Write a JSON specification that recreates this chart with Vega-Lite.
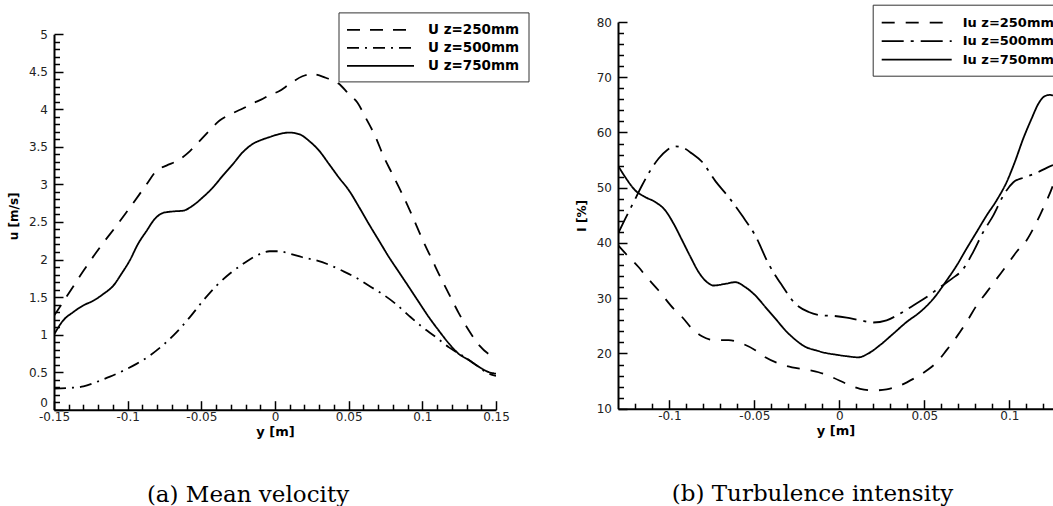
{
  "$schema": "https://vega.github.io/schema/vega-lite/v6.json",
  "padding": {"left": 7, "top": 4, "right": 0, "bottom": 0},
  "background": "white",
  "spacing": 46,
  "datasets": {
    "vel": [
      {"s": "U z=250mm", "y": -0.15, "v": 1.25},
      {"s": "U z=250mm", "y": -0.1403, "v": 1.54},
      {"s": "U z=250mm", "y": -0.13, "v": 1.85},
      {"s": "U z=250mm", "y": -0.1189, "v": 2.16},
      {"s": "U z=250mm", "y": -0.1076, "v": 2.45},
      {"s": "U z=250mm", "y": -0.0974, "v": 2.72},
      {"s": "U z=250mm", "y": -0.0872, "v": 3.0},
      {"s": "U z=250mm", "y": -0.0805, "v": 3.18},
      {"s": "U z=250mm", "y": -0.0737, "v": 3.25},
      {"s": "U z=250mm", "y": -0.0658, "v": 3.32},
      {"s": "U z=250mm", "y": -0.0579, "v": 3.44},
      {"s": "U z=250mm", "y": -0.0511, "v": 3.58},
      {"s": "U z=250mm", "y": -0.0444, "v": 3.72},
      {"s": "U z=250mm", "y": -0.0376, "v": 3.85},
      {"s": "U z=250mm", "y": -0.0297, "v": 3.94},
      {"s": "U z=250mm", "y": -0.0229, "v": 4.0},
      {"s": "U z=250mm", "y": -0.015, "v": 4.08},
      {"s": "U z=250mm", "y": -0.0082, "v": 4.14},
      {"s": "U z=250mm", "y": -0.0037, "v": 4.19},
      {"s": "U z=250mm", "y": 0.0027, "v": 4.24},
      {"s": "U z=250mm", "y": 0.0095, "v": 4.33},
      {"s": "U z=250mm", "y": 0.0186, "v": 4.44},
      {"s": "U z=250mm", "y": 0.0253, "v": 4.47},
      {"s": "U z=250mm", "y": 0.0344, "v": 4.42},
      {"s": "U z=250mm", "y": 0.0434, "v": 4.34},
      {"s": "U z=250mm", "y": 0.0502, "v": 4.2},
      {"s": "U z=250mm", "y": 0.0559, "v": 4.09},
      {"s": "U z=250mm", "y": 0.0615, "v": 3.89},
      {"s": "U z=250mm", "y": 0.0683, "v": 3.63},
      {"s": "U z=250mm", "y": 0.074, "v": 3.36},
      {"s": "U z=250mm", "y": 0.0796, "v": 3.14},
      {"s": "U z=250mm", "y": 0.0864, "v": 2.87},
      {"s": "U z=250mm", "y": 0.0932, "v": 2.58},
      {"s": "U z=250mm", "y": 0.1, "v": 2.27},
      {"s": "U z=250mm", "y": 0.1068, "v": 1.99},
      {"s": "U z=250mm", "y": 0.1124, "v": 1.76},
      {"s": "U z=250mm", "y": 0.1181, "v": 1.54},
      {"s": "U z=250mm", "y": 0.1249, "v": 1.28},
      {"s": "U z=250mm", "y": 0.1317, "v": 1.05},
      {"s": "U z=250mm", "y": 0.1385, "v": 0.86},
      {"s": "U z=250mm", "y": 0.1452, "v": 0.74},
      {"s": "U z=250mm", "y": 0.15, "v": 0.7},
      {"s": "U z=500mm", "y": -0.15, "v": 0.28},
      {"s": "U z=500mm", "y": -0.1392, "v": 0.29},
      {"s": "U z=500mm", "y": -0.13, "v": 0.31},
      {"s": "U z=500mm", "y": -0.1211, "v": 0.37},
      {"s": "U z=500mm", "y": -0.112, "v": 0.44},
      {"s": "U z=500mm", "y": -0.103, "v": 0.52},
      {"s": "U z=500mm", "y": -0.094, "v": 0.61},
      {"s": "U z=500mm", "y": -0.085, "v": 0.72},
      {"s": "U z=500mm", "y": -0.076, "v": 0.86},
      {"s": "U z=500mm", "y": -0.0669, "v": 1.03},
      {"s": "U z=500mm", "y": -0.0579, "v": 1.23},
      {"s": "U z=500mm", "y": -0.0489, "v": 1.45},
      {"s": "U z=500mm", "y": -0.0398, "v": 1.65},
      {"s": "U z=500mm", "y": -0.0308, "v": 1.81},
      {"s": "U z=500mm", "y": -0.0218, "v": 1.94},
      {"s": "U z=500mm", "y": -0.0128, "v": 2.05},
      {"s": "U z=500mm", "y": -0.0037, "v": 2.11},
      {"s": "U z=500mm", "y": 0.0027, "v": 2.11},
      {"s": "U z=500mm", "y": 0.0095, "v": 2.08},
      {"s": "U z=500mm", "y": 0.0186, "v": 2.03},
      {"s": "U z=500mm", "y": 0.0276, "v": 1.99},
      {"s": "U z=500mm", "y": 0.0367, "v": 1.93},
      {"s": "U z=500mm", "y": 0.0457, "v": 1.85},
      {"s": "U z=500mm", "y": 0.0548, "v": 1.76},
      {"s": "U z=500mm", "y": 0.0638, "v": 1.65},
      {"s": "U z=500mm", "y": 0.0729, "v": 1.54},
      {"s": "U z=500mm", "y": 0.0819, "v": 1.41},
      {"s": "U z=500mm", "y": 0.091, "v": 1.25},
      {"s": "U z=500mm", "y": 0.1, "v": 1.1},
      {"s": "U z=500mm", "y": 0.109, "v": 0.97},
      {"s": "U z=500mm", "y": 0.1181, "v": 0.83},
      {"s": "U z=500mm", "y": 0.1271, "v": 0.72},
      {"s": "U z=500mm", "y": 0.1362, "v": 0.6},
      {"s": "U z=500mm", "y": 0.1452, "v": 0.48},
      {"s": "U z=500mm", "y": 0.15, "v": 0.45},
      {"s": "U z=750mm", "y": -0.15, "v": 1.0},
      {"s": "U z=750mm", "y": -0.1437, "v": 1.19},
      {"s": "U z=750mm", "y": -0.1369, "v": 1.3},
      {"s": "U z=750mm", "y": -0.13, "v": 1.39},
      {"s": "U z=750mm", "y": -0.1234, "v": 1.45},
      {"s": "U z=750mm", "y": -0.1166, "v": 1.54},
      {"s": "U z=750mm", "y": -0.1098, "v": 1.65},
      {"s": "U z=750mm", "y": -0.1042, "v": 1.81},
      {"s": "U z=750mm", "y": -0.0985, "v": 1.99},
      {"s": "U z=750mm", "y": -0.0929, "v": 2.21},
      {"s": "U z=750mm", "y": -0.0872, "v": 2.38},
      {"s": "U z=750mm", "y": -0.0816, "v": 2.54},
      {"s": "U z=750mm", "y": -0.076, "v": 2.62},
      {"s": "U z=750mm", "y": -0.0692, "v": 2.64},
      {"s": "U z=750mm", "y": -0.0624, "v": 2.65},
      {"s": "U z=750mm", "y": -0.0556, "v": 2.72},
      {"s": "U z=750mm", "y": -0.0489, "v": 2.83},
      {"s": "U z=750mm", "y": -0.0421, "v": 2.96},
      {"s": "U z=750mm", "y": -0.0353, "v": 3.12},
      {"s": "U z=750mm", "y": -0.0286, "v": 3.27},
      {"s": "U z=750mm", "y": -0.0218, "v": 3.43},
      {"s": "U z=750mm", "y": -0.015, "v": 3.54},
      {"s": "U z=750mm", "y": -0.0082, "v": 3.6},
      {"s": "U z=750mm", "y": -0.0037, "v": 3.63},
      {"s": "U z=750mm", "y": 0.0027, "v": 3.67},
      {"s": "U z=750mm", "y": 0.0095, "v": 3.69},
      {"s": "U z=750mm", "y": 0.0163, "v": 3.67},
      {"s": "U z=750mm", "y": 0.0231, "v": 3.58},
      {"s": "U z=750mm", "y": 0.0299, "v": 3.45},
      {"s": "U z=750mm", "y": 0.0367, "v": 3.27},
      {"s": "U z=750mm", "y": 0.0434, "v": 3.09},
      {"s": "U z=750mm", "y": 0.0502, "v": 2.92},
      {"s": "U z=750mm", "y": 0.057, "v": 2.7},
      {"s": "U z=750mm", "y": 0.0638, "v": 2.47},
      {"s": "U z=750mm", "y": 0.0706, "v": 2.25},
      {"s": "U z=750mm", "y": 0.0774, "v": 2.03},
      {"s": "U z=750mm", "y": 0.0842, "v": 1.83},
      {"s": "U z=750mm", "y": 0.091, "v": 1.63},
      {"s": "U z=750mm", "y": 0.0977, "v": 1.43},
      {"s": "U z=750mm", "y": 0.1045, "v": 1.23},
      {"s": "U z=750mm", "y": 0.1113, "v": 1.05},
      {"s": "U z=750mm", "y": 0.1181, "v": 0.88},
      {"s": "U z=750mm", "y": 0.1249, "v": 0.74},
      {"s": "U z=750mm", "y": 0.1317, "v": 0.66},
      {"s": "U z=750mm", "y": 0.1385, "v": 0.57},
      {"s": "U z=750mm", "y": 0.1452, "v": 0.5},
      {"s": "U z=750mm", "y": 0.15, "v": 0.48}
    ],
    "ti": [
      {"s": "Iu z=250mm", "y": -0.1302, "v": 39.6},
      {"s": "Iu z=250mm", "y": -0.1249, "v": 37.8},
      {"s": "Iu z=250mm", "y": -0.118, "v": 35.6},
      {"s": "Iu z=250mm", "y": -0.1141, "v": 34.1},
      {"s": "Iu z=250mm", "y": -0.1063, "v": 31.4},
      {"s": "Iu z=250mm", "y": -0.0975, "v": 28.1},
      {"s": "Iu z=250mm", "y": -0.0925, "v": 26.6},
      {"s": "Iu z=250mm", "y": -0.0867, "v": 24.5},
      {"s": "Iu z=250mm", "y": -0.0808, "v": 23.1},
      {"s": "Iu z=250mm", "y": -0.0729, "v": 22.4},
      {"s": "Iu z=250mm", "y": -0.0651, "v": 22.4},
      {"s": "Iu z=250mm", "y": -0.0573, "v": 21.8},
      {"s": "Iu z=250mm", "y": -0.0494, "v": 20.6},
      {"s": "Iu z=250mm", "y": -0.0435, "v": 19.3},
      {"s": "Iu z=250mm", "y": -0.0367, "v": 18.3},
      {"s": "Iu z=250mm", "y": -0.0278, "v": 17.5},
      {"s": "Iu z=250mm", "y": -0.02, "v": 17.1},
      {"s": "Iu z=250mm", "y": -0.0122, "v": 16.6},
      {"s": "Iu z=250mm", "y": -0.0043, "v": 15.7},
      {"s": "Iu z=250mm", "y": 0.0043, "v": 14.5},
      {"s": "Iu z=250mm", "y": 0.0122, "v": 13.6},
      {"s": "Iu z=250mm", "y": 0.02, "v": 13.3},
      {"s": "Iu z=250mm", "y": 0.0278, "v": 13.5},
      {"s": "Iu z=250mm", "y": 0.0357, "v": 14.2},
      {"s": "Iu z=250mm", "y": 0.0435, "v": 15.4},
      {"s": "Iu z=250mm", "y": 0.0514, "v": 16.9},
      {"s": "Iu z=250mm", "y": 0.0573, "v": 18.4},
      {"s": "Iu z=250mm", "y": 0.0631, "v": 20.6},
      {"s": "Iu z=250mm", "y": 0.069, "v": 23.0},
      {"s": "Iu z=250mm", "y": 0.0749, "v": 25.7},
      {"s": "Iu z=250mm", "y": 0.0808, "v": 28.7},
      {"s": "Iu z=250mm", "y": 0.0867, "v": 31.1},
      {"s": "Iu z=250mm", "y": 0.0925, "v": 33.5},
      {"s": "Iu z=250mm", "y": 0.0984, "v": 35.9},
      {"s": "Iu z=250mm", "y": 0.1043, "v": 38.4},
      {"s": "Iu z=250mm", "y": 0.1102, "v": 40.5},
      {"s": "Iu z=250mm", "y": 0.1141, "v": 42.6},
      {"s": "Iu z=250mm", "y": 0.118, "v": 45.0},
      {"s": "Iu z=250mm", "y": 0.122, "v": 47.7},
      {"s": "Iu z=250mm", "y": 0.1249, "v": 49.8},
      {"s": "Iu z=250mm", "y": 0.1257, "v": 50.5},
      {"s": "Iu z=500mm", "y": -0.1302, "v": 41.7},
      {"s": "Iu z=500mm", "y": -0.1259, "v": 44.4},
      {"s": "Iu z=500mm", "y": -0.121, "v": 47.4},
      {"s": "Iu z=500mm", "y": -0.1161, "v": 50.4},
      {"s": "Iu z=500mm", "y": -0.1112, "v": 53.1},
      {"s": "Iu z=500mm", "y": -0.1063, "v": 55.3},
      {"s": "Iu z=500mm", "y": -0.1014, "v": 56.8},
      {"s": "Iu z=500mm", "y": -0.0965, "v": 57.5},
      {"s": "Iu z=500mm", "y": -0.0925, "v": 57.3},
      {"s": "Iu z=500mm", "y": -0.0867, "v": 56.2},
      {"s": "Iu z=500mm", "y": -0.0808, "v": 54.7},
      {"s": "Iu z=500mm", "y": -0.0729, "v": 51.2},
      {"s": "Iu z=500mm", "y": -0.0651, "v": 48.3},
      {"s": "Iu z=500mm", "y": -0.0573, "v": 45.0},
      {"s": "Iu z=500mm", "y": -0.0494, "v": 41.3},
      {"s": "Iu z=500mm", "y": -0.0416, "v": 36.2},
      {"s": "Iu z=500mm", "y": -0.0337, "v": 32.3},
      {"s": "Iu z=500mm", "y": -0.0259, "v": 29.0},
      {"s": "Iu z=500mm", "y": -0.018, "v": 27.5},
      {"s": "Iu z=500mm", "y": -0.0102, "v": 26.9},
      {"s": "Iu z=500mm", "y": -0.0035, "v": 26.8},
      {"s": "Iu z=500mm", "y": 0.0043, "v": 26.5},
      {"s": "Iu z=500mm", "y": 0.0122, "v": 26.0},
      {"s": "Iu z=500mm", "y": 0.02, "v": 25.6},
      {"s": "Iu z=500mm", "y": 0.0278, "v": 26.0},
      {"s": "Iu z=500mm", "y": 0.0357, "v": 27.2},
      {"s": "Iu z=500mm", "y": 0.0435, "v": 28.7},
      {"s": "Iu z=500mm", "y": 0.0514, "v": 30.2},
      {"s": "Iu z=500mm", "y": 0.0592, "v": 32.0},
      {"s": "Iu z=500mm", "y": 0.0661, "v": 33.5},
      {"s": "Iu z=500mm", "y": 0.0729, "v": 35.3},
      {"s": "Iu z=500mm", "y": 0.0788, "v": 38.4},
      {"s": "Iu z=500mm", "y": 0.0847, "v": 42.0},
      {"s": "Iu z=500mm", "y": 0.0906, "v": 45.0},
      {"s": "Iu z=500mm", "y": 0.0965, "v": 48.6},
      {"s": "Iu z=500mm", "y": 0.1024, "v": 51.0},
      {"s": "Iu z=500mm", "y": 0.1092, "v": 51.9},
      {"s": "Iu z=500mm", "y": 0.1161, "v": 52.7},
      {"s": "Iu z=500mm", "y": 0.122, "v": 53.6},
      {"s": "Iu z=500mm", "y": 0.1257, "v": 54.1},
      {"s": "Iu z=750mm", "y": -0.1302, "v": 54.0},
      {"s": "Iu z=750mm", "y": -0.1259, "v": 51.9},
      {"s": "Iu z=750mm", "y": -0.12, "v": 49.5},
      {"s": "Iu z=750mm", "y": -0.1141, "v": 48.3},
      {"s": "Iu z=750mm", "y": -0.1082, "v": 47.4},
      {"s": "Iu z=750mm", "y": -0.1024, "v": 45.9},
      {"s": "Iu z=750mm", "y": -0.0975, "v": 43.5},
      {"s": "Iu z=750mm", "y": -0.0925, "v": 40.5},
      {"s": "Iu z=750mm", "y": -0.0876, "v": 37.5},
      {"s": "Iu z=750mm", "y": -0.0827, "v": 34.7},
      {"s": "Iu z=750mm", "y": -0.0778, "v": 32.9},
      {"s": "Iu z=750mm", "y": -0.0739, "v": 32.3},
      {"s": "Iu z=750mm", "y": -0.0671, "v": 32.6},
      {"s": "Iu z=750mm", "y": -0.0612, "v": 32.9},
      {"s": "Iu z=750mm", "y": -0.0553, "v": 32.0},
      {"s": "Iu z=750mm", "y": -0.0494, "v": 30.5},
      {"s": "Iu z=750mm", "y": -0.0435, "v": 28.4},
      {"s": "Iu z=750mm", "y": -0.0376, "v": 26.3},
      {"s": "Iu z=750mm", "y": -0.0318, "v": 24.2},
      {"s": "Iu z=750mm", "y": -0.0259, "v": 22.5},
      {"s": "Iu z=750mm", "y": -0.02, "v": 21.2},
      {"s": "Iu z=750mm", "y": -0.0141, "v": 20.6},
      {"s": "Iu z=750mm", "y": -0.0082, "v": 20.1},
      {"s": "Iu z=750mm", "y": -0.0024, "v": 19.8},
      {"s": "Iu z=750mm", "y": 0.0043, "v": 19.5},
      {"s": "Iu z=750mm", "y": 0.0112, "v": 19.3},
      {"s": "Iu z=750mm", "y": 0.0171, "v": 20.0},
      {"s": "Iu z=750mm", "y": 0.0239, "v": 21.5},
      {"s": "Iu z=750mm", "y": 0.0318, "v": 23.6},
      {"s": "Iu z=750mm", "y": 0.0396, "v": 25.7},
      {"s": "Iu z=750mm", "y": 0.0475, "v": 27.5},
      {"s": "Iu z=750mm", "y": 0.0553, "v": 29.9},
      {"s": "Iu z=750mm", "y": 0.0631, "v": 33.2},
      {"s": "Iu z=750mm", "y": 0.069, "v": 35.9},
      {"s": "Iu z=750mm", "y": 0.0749, "v": 39.0},
      {"s": "Iu z=750mm", "y": 0.0808, "v": 42.0},
      {"s": "Iu z=750mm", "y": 0.0867, "v": 45.0},
      {"s": "Iu z=750mm", "y": 0.0925, "v": 47.7},
      {"s": "Iu z=750mm", "y": 0.0984, "v": 51.0},
      {"s": "Iu z=750mm", "y": 0.1033, "v": 54.7},
      {"s": "Iu z=750mm", "y": 0.1082, "v": 58.9},
      {"s": "Iu z=750mm", "y": 0.1131, "v": 62.5},
      {"s": "Iu z=750mm", "y": 0.1171, "v": 65.2},
      {"s": "Iu z=750mm", "y": 0.121, "v": 66.6},
      {"s": "Iu z=750mm", "y": 0.1239, "v": 66.8},
      {"s": "Iu z=750mm", "y": 0.1257, "v": 66.7}
    ]
  },
  "resolve": {
    "scale": {"x": "independent", "y": "independent", "strokeDash": "independent"},
    "legend": {"strokeDash": "independent"}
  },
  "hconcat": [
    {
      "width": 442,
      "height": 387.7,
      "title": {"text": "(a) Mean velocity", "orient": "bottom", "anchor": "middle", "dx": -27, "offset": 45, "font": "DejaVu Serif", "fontSize": 23, "fontWeight": "normal", "color": "black"},
      "data": {"name": "vel"},
      "mark": {"type": "line", "interpolate": "monotone", "stroke": "black", "strokeWidth": 1.8, "clip": true},
      "encoding": {
        "x": {
          "field": "y", "type": "quantitative",
          "scale": {"domain": [-0.15, 0.15], "nice": false, "zero": false},
          "axis": {
            "title": "y [m]", "titleFontSize": 13, "titlePadding": 0,
            "values": [-0.15,-0.14,-0.13,-0.12,-0.11,-0.1,-0.09,-0.08,-0.07,-0.06,-0.05,-0.04,-0.03,-0.02,-0.01,0,0.01,0.02,0.03,0.04,0.05,0.06,0.07,0.08,0.09,0.1,0.11,0.12,0.13,0.14,0.15],
            "labelExpr": "abs(datum.value*20 - round(datum.value*20)) < 1e-6 ? toString(datum.value) : ''",
            "tickSize": {"condition": {"test": "abs(datum.value*20 - round(datum.value*20)) < 1e-6", "value": -9}, "value": -5.5},
            "labelPadding": 10.5
          }
        },
        "y": {
          "field": "v", "type": "quantitative",
          "scale": {"domain": [0, 5.1625], "nice": false, "zero": false},
          "axis": {
            "title": "u [m/s]", "titleFontSize": 12, "titlePadding": 8,
            "domainDash": [375.5, 1000],
            "values": [0,0.1,0.2,0.3,0.4,0.5,0.6,0.7,0.8,0.9,1,1.1,1.2,1.3,1.4,1.5,1.6,1.7,1.8,1.9,2,2.1,2.2,2.3,2.4,2.5,2.6,2.7,2.8,2.9,3,3.1,3.2,3.3,3.4,3.5,3.6,3.7,3.8,3.9,4,4.1,4.2,4.3,4.4,4.5,4.6,4.7,4.8,4.9,5],
            "labelExpr": "abs(datum.value*2 - round(datum.value*2)) < 1e-6 ? toString(datum.value) : ''",
            "labelBaseline": {"condition": {"test": "datum.value == 0", "value": "bottom"}, "value": "middle"},
            "tickSize": {"condition": {"test": "abs(datum.value*2 - round(datum.value*2)) < 1e-6", "value": -9}, "value": -5.5},
            "labelPadding": 15.5
          }
        },
        "strokeDash": {
          "field": "s", "type": "nominal",
          "scale": {"domain": ["U z=250mm", "U z=500mm", "U z=750mm"], "range": [[13, 10], [12, 6, 2, 6], [1, 0]]},
          "legend": {
            "title": null, "orient": "none", "legendX": 284.5, "legendY": -9.6,
            "symbolType": "M-1.125,0H7.25", "symbolSize": 256, "symbolStrokeWidth": 1.8, "symbolStrokeColor": "black",
            "labelFont": "DejaVu Sans", "labelFontWeight": "bold", "labelFontSize": 13.5, "labelColor": "black",
            "labelOffset": 63, "rowPadding": 2, "padding": 8.5, "strokeColor": "#333", "fillColor": "white", "labelLimit": 300
          }
        }
      }
    },
    {
      "width": 435,
      "height": 386.7,
      "title": {"text": "(b) Turbulence intensity", "orient": "bottom", "anchor": "middle", "dx": -23, "offset": 45, "font": "DejaVu Serif", "fontSize": 23, "fontWeight": "normal", "color": "black"},
      "data": {"name": "ti"},
      "mark": {"type": "line", "interpolate": "monotone", "stroke": "black", "strokeWidth": 1.8, "clip": true},
      "encoding": {
        "x": {
          "field": "y", "type": "quantitative",
          "scale": {"domain": [-0.1302, 0.1257], "nice": false, "zero": false},
          "axis": {
            "title": "y [m]", "titleFontSize": 13, "titlePadding": 0,
            "values": [-0.12,-0.11,-0.1,-0.09,-0.08,-0.07,-0.06,-0.05,-0.04,-0.03,-0.02,-0.01,0,0.01,0.02,0.03,0.04,0.05,0.06,0.07,0.08,0.09,0.1,0.11,0.12],
            "labelExpr": "abs(datum.value*20 - round(datum.value*20)) < 1e-6 ? toString(datum.value) : ''",
            "tickSize": {"condition": {"test": "abs(datum.value*20 - round(datum.value*20)) < 1e-6", "value": -9}, "value": -5.5},
            "labelPadding": 10.5
          }
        },
        "y": {
          "field": "v", "type": "quantitative",
          "scale": {"domain": [10, 80], "nice": false, "zero": false},
          "axis": {
            "title": "I [%]", "titleFontSize": 12, "titlePadding": 8,
            "values": [10,12,14,16,18,20,22,24,26,28,30,32,34,36,38,40,42,44,46,48,50,52,54,56,58,60,62,64,66,68,70,72,74,76,78,80],
            "labelExpr": "datum.value % 10 == 0 ? toString(datum.value) : ''",
            "tickSize": {"condition": {"test": "datum.value % 10 == 0", "value": -9}, "value": -5.5},
            "labelPadding": 15.5
          }
        },
        "strokeDash": {
          "field": "s", "type": "nominal",
          "scale": {"domain": ["Iu z=250mm", "Iu z=500mm", "Iu z=750mm"], "range": [[13, 11], [22, 7, 3, 7], [1, 0]]},
          "legend": {
            "title": null, "orient": "none", "legendX": 254.7, "legendY": -17.3,
            "symbolType": "M-1.125,0H7.625", "symbolSize": 256, "symbolStrokeWidth": 1.8, "symbolStrokeColor": "black",
            "labelFont": "DejaVu Sans", "labelFontWeight": "bold", "labelFontSize": 13, "labelColor": "black",
            "labelOffset": 63, "rowPadding": 2.5, "padding": 9, "strokeColor": "#333", "fillColor": "white", "labelLimit": 300
          }
        }
      }
    }
  ],
  "config": {
    "view": {"stroke": null},
    "font": "DejaVu Sans",
    "axis": {
      "labelFont": "DejaVu Sans", "labelFontSize": 12, "labelColor": "#222",
      "titleFont": "DejaVu Sans", "titleFontWeight": "bold", "titleColor": "black",
      "domainColor": "black", "domainWidth": 2, "tickColor": "black", "tickWidth": 1.5,
      "grid": false, "labelFlush": false, "labelOverlap": false
    }
  }
}
